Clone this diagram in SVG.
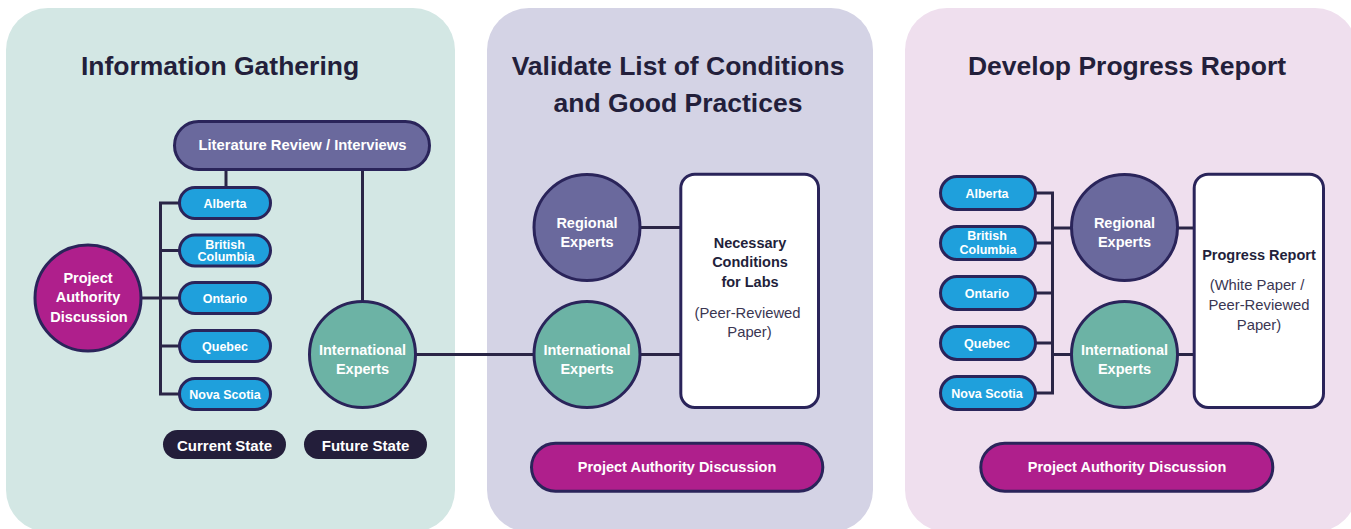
<svg xmlns="http://www.w3.org/2000/svg" width="1351" height="529" viewBox="0 0 1351 529">
<style>
text{font-family:"Liberation Sans",Arial,sans-serif;text-anchor:middle}
.title{font-size:26.5px;font-weight:700;fill:#231f3b}
.w{fill:#fff;font-weight:700;font-size:14.5px}
.ws{fill:#fff;font-weight:700;font-size:12.5px}
.db{fill:#231f3b;font-weight:700;font-size:14.5px}
.dr{fill:#3a3652;font-size:14.8px}
.st{stroke:#2a245a;stroke-width:3}
.prov{fill:#1fa0dc}
.mag{fill:#af1f8c}
.pur{fill:#6a699d}
.teal{fill:#6cb3a5}
.box{fill:#fff}
.dark{fill:#231e3a}
.ln{stroke:#2a2546;stroke-width:3;fill:none}
</style>
<g id="panels">
<rect x="6" y="8" width="449" height="524" rx="42" fill="#d3e7e4"/>
<rect x="487" y="8" width="386" height="524" rx="42" fill="#d4d3e5"/>
<rect x="905" y="8" width="452" height="524" rx="42" fill="#efdfee"/>
<text class="title" x="220" y="75">Information Gathering</text>
<text class="title" x="678" y="75">Validate List of Conditions</text>
<text class="title" x="678" y="112">and Good Practices</text>
<text class="title" x="1127" y="75">Develop Progress Report</text>
</g>
<g id="connectors">
<line class="ln" x1="226" y1="169" x2="226" y2="188"/>
<line class="ln" x1="362.5" y1="169" x2="362.5" y2="302"/>
<path class="ln" d="M180 203H160.5V394H180M160.5 250.5H180M160.5 346H180M141 298H180"/>
<line class="ln" x1="415" y1="354.5" x2="534" y2="354.5"/>
<line class="ln" x1="640" y1="227.5" x2="682" y2="227.5"/>
<line class="ln" x1="640" y1="354.5" x2="682" y2="354.5"/>
<path class="ln" d="M1035 193H1052.5V393H1035M1035 243H1052.5M1035 293H1052.5M1035 343H1052.5M1052.5 228H1072M1052.5 354.5H1072"/>
<line class="ln" x1="1177" y1="228" x2="1195" y2="228"/>
<line class="ln" x1="1177" y1="354.5" x2="1195" y2="354.5"/>
</g>
<g id="lit-review"><rect class="pur st" x="174.5" y="121.5" width="255" height="48" rx="24"/><text class="w" style="font-size:14.8px" x="302.5" y="150">Literature Review / Interviews</text></g>
<g id="p1-alberta"><rect class="prov st" x="179.5" y="187.5" width="91" height="31" rx="15.5"/><text class="ws" x="225" y="207.5">Alberta</text></g>
<g id="p1-bc"><rect class="prov st" x="179.5" y="235" width="91" height="31" rx="15.5"/><text class="ws" x="225" y="248.5">British</text><text class="ws" x="226" y="261.2">Columbia</text></g>
<g id="p1-ontario"><rect class="prov st" x="179.5" y="282.5" width="91" height="31" rx="15.5"/><text class="ws" x="225" y="302.5">Ontario</text></g>
<g id="p1-quebec"><rect class="prov st" x="179.5" y="330.5" width="91" height="31" rx="15.5"/><text class="ws" x="225" y="350.5">Quebec</text></g>
<g id="p1-novascotia"><rect class="prov st" x="179.5" y="378.5" width="91" height="31" rx="15.5"/><text class="ws" x="225" y="398.5">Nova Scotia</text></g>
<g id="p1-pad"><circle class="mag st" cx="88" cy="298" r="53"/><text class="w" x="88" y="282.5">Project</text><text class="w" x="88" y="302">Authority</text><text class="w" x="89" y="321.5">Discussion</text></g>
<g id="p1-intl"><circle class="teal st" cx="362.5" cy="354.5" r="53"/><text class="w" x="362.5" y="354.5">International</text><text class="w" x="362.5" y="373.5">Experts</text></g>
<g id="current-state"><rect class="dark" x="163" y="430" width="123" height="29" rx="14.5"/><text class="w" style="font-size:15px" x="224.5" y="450.5">Current State</text></g>
<g id="future-state"><rect class="dark" x="304" y="430" width="123" height="29" rx="14.5"/><text class="w" style="font-size:15px" x="365.5" y="450.5">Future State</text></g>
<g id="p2-regional"><circle class="pur st" cx="587" cy="227.5" r="53"/><text class="w" x="587" y="227.5">Regional</text><text class="w" x="587" y="246.5">Experts</text></g>
<g id="p2-intl"><circle class="teal st" cx="587" cy="354.5" r="53"/><text class="w" x="587" y="354.5">International</text><text class="w" x="587" y="373.5">Experts</text></g>
<g id="p2-box"><rect class="box st" x="680.8" y="174.2" width="137.7" height="233.3" rx="14"/><text class="db" x="750" y="248">Necessary</text><text class="db" x="750" y="267">Conditions</text><text class="db" x="750" y="287">for Labs</text><text class="dr" x="747.5" y="317.5">(Peer-Reviewed</text><text class="dr" x="749.5" y="336.5">Paper)</text></g>
<g id="p2-pad"><rect class="mag st" x="531.5" y="443.2" width="291.3" height="48" rx="24"/><text class="w" x="677" y="472">Project Authority Discussion</text></g>
<g id="p3-alberta"><rect class="prov st" x="940.5" y="176.5" width="95" height="33" rx="16.5"/><text class="ws" x="987" y="197.8">Alberta</text></g>
<g id="p3-bc"><rect class="prov st" x="940.5" y="226.5" width="95" height="33" rx="16.5"/><text class="ws" x="987" y="240">British</text><text class="ws" x="988" y="254">Columbia</text></g>
<g id="p3-ontario"><rect class="prov st" x="940.5" y="276.5" width="95" height="33" rx="16.5"/><text class="ws" x="987" y="297.8">Ontario</text></g>
<g id="p3-quebec"><rect class="prov st" x="940.5" y="326.5" width="95" height="33" rx="16.5"/><text class="ws" x="987" y="347.8">Quebec</text></g>
<g id="p3-novascotia"><rect class="prov st" x="940.5" y="376.5" width="95" height="33" rx="16.5"/><text class="ws" x="987" y="397.8">Nova Scotia</text></g>
<g id="p3-regional"><circle class="pur st" cx="1124.5" cy="227.5" r="53"/><text class="w" x="1124.5" y="227.5">Regional</text><text class="w" x="1124.5" y="246.5">Experts</text></g>
<g id="p3-intl"><circle class="teal st" cx="1124.5" cy="354.5" r="53"/><text class="w" x="1124.5" y="354.5">International</text><text class="w" x="1124.5" y="373.5">Experts</text></g>
<g id="p3-box"><rect class="box st" x="1194.2" y="174.2" width="129.3" height="233.3" rx="14"/><text class="db" x="1259" y="260">Progress Report</text><text class="dr" x="1257" y="290">(White Paper /</text><text class="dr" x="1259" y="310">Peer-Reviewed</text><text class="dr" x="1259" y="329.5">Paper)</text></g>
<g id="p3-pad"><rect class="mag st" x="980.8" y="443.2" width="292" height="48" rx="24"/><text class="w" x="1127" y="472">Project Authority Discussion</text></g>
</svg>
